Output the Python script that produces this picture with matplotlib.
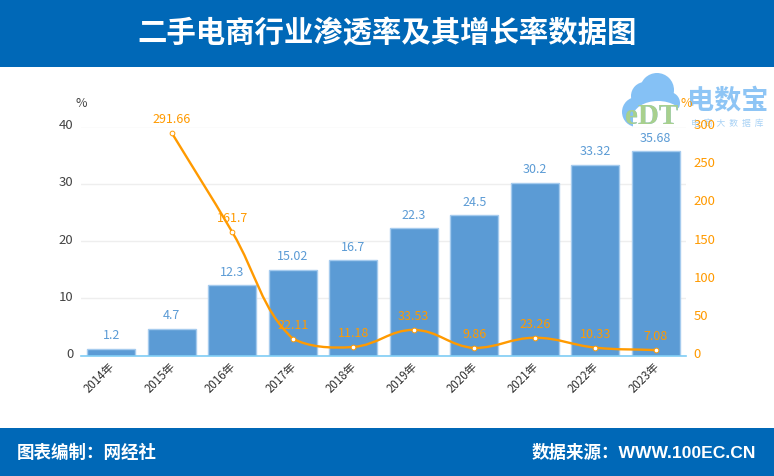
import numpy as np
import matplotlib
matplotlib.use("Agg")
import matplotlib.pyplot as plt
from matplotlib.path import Path
from matplotlib.patches import PathPatch, Rectangle, Circle, Ellipse
from matplotlib.transforms import ScaledTranslation

plt.rcParams['font.family'] = ['Noto Sans CJK SC', 'DejaVu Sans']

years = ['2014年','2015年','2016年','2017年','2018年','2019年','2020年','2021年','2022年','2023年']
penetration = [1.2, 4.7, 12.3, 15.02, 16.7, 22.3, 24.5, 30.2, 33.32, 35.68]
growth_years = [1, 2, 3, 4, 5, 6, 7, 8, 9]
growth = [291.66, 161.7, 22.11, 11.18, 33.53, 9.86, 23.26, 10.33, 7.08]
left_ticks = [0, 10, 20, 30, 40]
right_ticks = [0, 50, 100, 150, 200, 250, 300]

W, H = 774, 476
BLUE = '#0068B7'; BAR = '#5B9BD5'; ORANGE = '#FF9A00'
fig = plt.figure(figsize=(W/100, H/100), dpi=100, facecolor='white')

def frame(x0, y0, x1, y1):
    return [x0/W, 1-y1/H, (x1-x0)/W, (y1-y0)/H]

def px_shift(dx, dy):
    return ScaledTranslation(dx/100, -dy/100, fig.dpi_scale_trans)

ax = fig.add_axes(frame(81, 126.5, 686, 355.5), zorder=2)
ax.set_xlim(-0.5, 9.5); ax.set_ylim(0, 40)
ax.patch.set_alpha(0)
ax.bar(range(10), penetration, width=0.8, color=BAR, edgecolor='#A5CBEE', linewidth=1, zorder=2)
for i, v in enumerate(penetration):
    ax.annotate(f'{v:g}', (i, v), xytext=(0, 4.5), textcoords='offset points', ha='center', va='bottom',
                color=BAR, fontsize=9, zorder=6)
ax.set_yticks(left_ticks)
ax.set_xticks(range(10), years, rotation=45, ha='right', rotation_mode='anchor')
ax.tick_params(axis='y', length=0, labelsize=9.5, labelcolor='#444444', pad=5.5)
ax.tick_params(axis='x', length=0, labelsize=8.3, labelcolor='#333333', pad=3)
for t in ax.get_yticklabels():
    t.set_transform(t.get_transform() + px_shift(0, -2.5))
for t in ax.get_xticklabels():
    t.set_transform(t.get_transform() + px_shift(-3, 0))
ax.grid(axis='y', color='#EEEEEE', lw=1, zorder=0)
ax.set_axisbelow(True)
for s in ['top', 'left', 'right']:
    ax.spines[s].set_visible(False)
ax.spines['bottom'].set_color('#7FCDF5'); ax.spines['bottom'].set_linewidth(1.2)
ax.spines['bottom'].set_zorder(5)
ax.text(0, 1.102, '%', transform=ax.transAxes, fontsize=9, color='#444444', ha='center', va='center')

ax2 = ax.twinx()
ax2.set_ylim(0, 300); ax2.set_yticks(right_ticks)
ax2.patch.set_alpha(0)
ax2.tick_params(axis='y', length=0, labelsize=9.5, labelcolor=ORANGE, pad=5.5)
for t in ax2.get_yticklabels():
    t.set_transform(t.get_transform() + px_shift(0, -2.5))
for s in ax2.spines.values():
    s.set_visible(False)
ax2.text(1.0, 1.102, '%', transform=ax2.transAxes, color=ORANGE, fontsize=9, ha='center', va='center', zorder=9)

# smooth line through the readings, bezier control points derived from the neighbours
sx, sy = 60.5, 229/300
px = np.array(growth_years) * sx
py = np.array(growth) * sy
n = len(px)
smooth = 0.4
verts = [(growth_years[0], growth[0])]
codes = [Path.MOVETO]
def ctrl(i):
    a = max(i-1, 0); b = min(i+1, n-1)
    v = np.array([px[b]-px[a], py[b]-py[a]])
    d0 = np.hypot(px[i]-px[a], py[i]-py[a]); d1 = np.hypot(px[b]-px[i], py[b]-py[i])
    t = d0/(d0+d1) if d0+d1 else 0.5
    c0 = np.array([px[i], py[i]]) - v*smooth*t
    c1 = np.array([px[i], py[i]]) + v*smooth*(1-t)
    return c0, c1
for i in range(n-1):
    c1 = ctrl(i)[1]; c2 = ctrl(i+1)[0]
    c1[1] = np.clip(c1[1], min(py[i], py[i+1]), max(py[i], py[i+1]))
    verts += [(c1[0]/sx, c1[1]/sy), (c2[0]/sx, c2[1]/sy), (growth_years[i+1], growth[i+1])]
    codes += [Path.CURVE4]*3
ax2.add_patch(PathPatch(Path(verts, codes), fill=False, edgecolor=ORANGE, lw=1.7, zorder=3))
ax2.plot(growth_years, growth, ls='none', marker='o', ms=3.4, mfc='white', mec=ORANGE, mew=0.7, zorder=4)
for x, v in zip(growth_years, growth):
    ax2.annotate(f'{v:g}', (x, v), xytext=(0, 5), textcoords='offset points', ha='center', va='bottom',
                 color=ORANGE, fontsize=9, zorder=6)

# page furniture in pixel coordinates
bg = fig.add_axes([0, 0, 1, 1], zorder=1)
bg.set_xlim(0, W); bg.set_ylim(H, 0); bg.axis('off'); bg.patch.set_alpha(0)
bg.add_patch(Rectangle((0, 0), W, 67, color=BLUE, lw=0))
bg.add_patch(Rectangle((0, 428), W, 48, color=BLUE, lw=0))
bg.text(387, 33.5, '二手电商行业渗透率及其增长率数据图', color='white', fontsize=21.2, fontweight='bold', ha='center', va='center')
bg.text(17, 452.5, '图表编制：网经社', color='white', fontsize=12.6, fontweight='bold', ha='left', va='center')
bg.text(756, 452.5, '数据来源：WWW.100EC.CN', color='white', fontsize=12.6, fontweight='bold', ha='right', va='center',
        family=['Liberation Sans', 'Noto Sans CJK SC'])

# watermark logo
LOGO = '#85C1F5'
for cx, cy, r in [(637, 112, 15), (645, 96, 14), (657, 90, 17), (669, 103, 11)]:
    bg.add_patch(Circle((cx, cy), r, color=LOGO, lw=0))
bg.add_patch(Ellipse((658, 117), 50, 32, color='white', lw=0))
bg.add_patch(Rectangle((633, 117), 50, 12, color='white', lw=0))
bg.text(652, 116, 'eDT', color='#7DBDEB', fontsize=21, fontweight='bold', ha='center', va='center', family='Liberation Serif')
green = bg.text(652, 116, 'eDT', color='#A8D08D', fontsize=21, fontweight='bold', ha='center', va='center', family='Liberation Serif')
green.set_clip_path(Rectangle((620, 95), 65, 19, transform=bg.transData))
bg.text(727.5, 100, '电数宝', color='#8EC5F5', fontsize=19.5, fontweight='bold', ha='center', va='center')
bg.text(727, 123, '电  商  大  数  据  库', color='#A9D2F5', fontsize=6.3, ha='center', va='center')

fig.savefig('out.png', dpi=100)
